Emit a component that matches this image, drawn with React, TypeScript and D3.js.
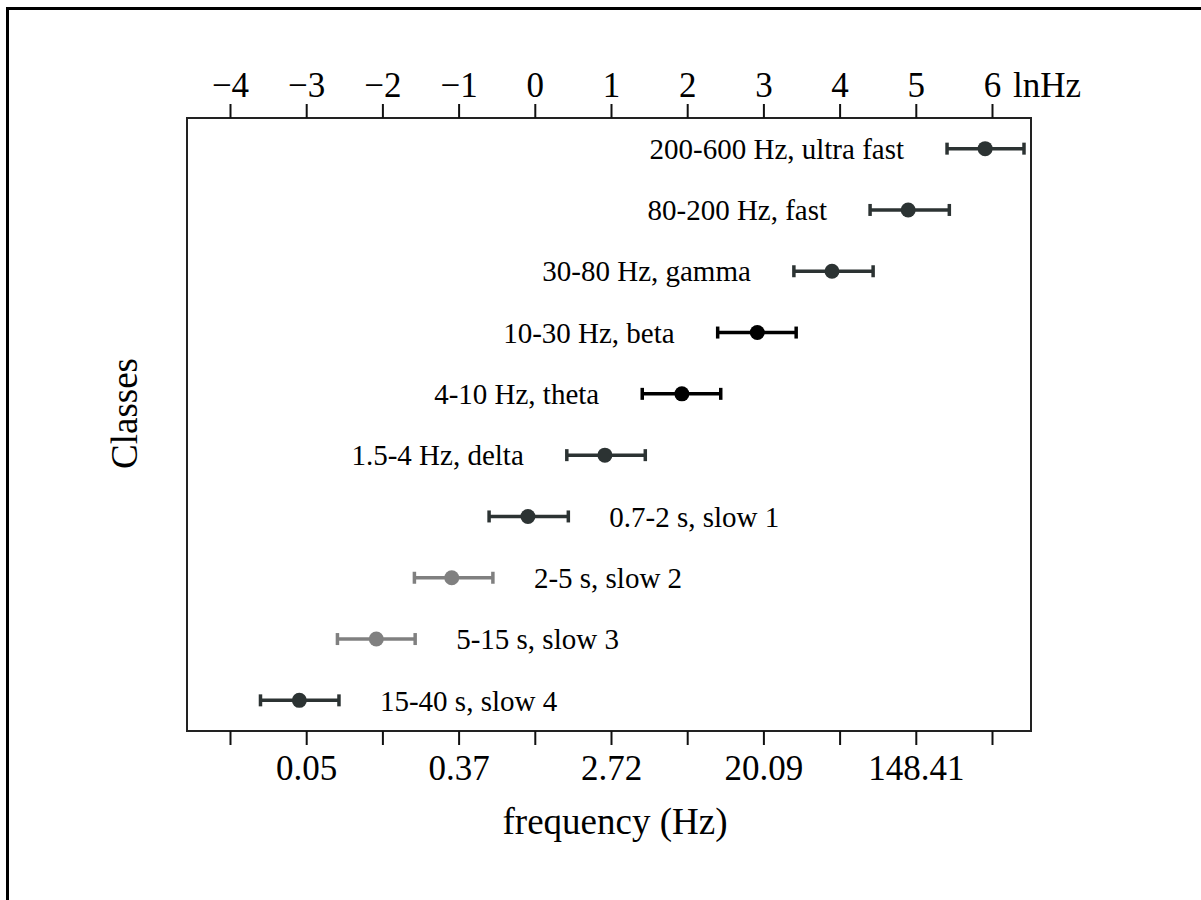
import * as d3 from "d3";
import { useEffect, useRef } from "react";

// classes from top to bottom, values in ln(Hz)
const classes = [
  "200-600 Hz, ultra fast",
  "80-200 Hz, fast",
  "30-80 Hz, gamma",
  "10-30 Hz, beta",
  "4-10 Hz, theta",
  "1.5-4 Hz, delta",
  "0.7-2 s, slow 1",
  "2-5 s, slow 2",
  "5-15 s, slow 3",
  "15-40 s, slow 4",
];
const centers = [5.91, 4.9, 3.9, 2.92, 1.93, 0.92, -0.09, -1.09, -2.08, -3.09];
const lows = [5.41, 4.4, 3.4, 2.4, 1.41, 0.42, -0.6, -1.58, -2.59, -3.6];
const highs = [6.42, 5.44, 4.44, 3.43, 2.44, 1.45, 0.44, -0.55, -1.57, -2.57];
const colors = ["#2c3333", "#2c3333", "#2c3333", "#000000", "#000000", "#2c3333", "#2c3333", "#808080", "#808080", "#2c3333"];
// label sits left of the bar for the fast ones, right of it for the slow ones
const labelLeft = [true, true, true, true, true, true, false, false, false, false];

const topTicks = [-4, -3, -2, -1, 0, 1, 2, 3, 4, 5, 6];
const bottomTicks = [-4, -3, -2, -1, 0, 1, 2, 3, 4, 5, 6];
const bottomLabelTicks = [-3, -1, 1, 3, 5];
const bottomLabels = ["0.05", "0.37", "2.72", "20.09", "148.41"];

export default function App() {
  const ref = useRef<SVGSVGElement>(null);

  useEffect(() => {
    const svg = d3.select(ref.current);
    svg.selectAll("*").remove();
    const g = svg.append("g");

    const left = 187, right = 1031, top = 118, bottom = 731;
    const font = "'Liberation Serif', 'Times New Roman', serif";

    // outer frame, only top and left edges visible
    g.append("path")
      .attr("d", "M7.5,900V8.5H1201")
      .attr("fill", "none")
      .attr("stroke", "#000")
      .attr("stroke-width", 3);

    const x = d3.scaleLinear().domain([-4, 6]).range([230, 992]);
    const y = d3.scalePoint<string>().domain(classes).range([top, bottom]).padding(0.5);

    // plot box
    g.append("rect")
      .attr("x", left)
      .attr("y", top)
      .attr("width", right - left)
      .attr("height", bottom - top)
      .attr("fill", "none")
      .attr("stroke", "#222")
      .attr("stroke-width", 2);

    const topAxis = d3.axisTop(x)
      .tickValues(topTicks)
      .tickSize(14)
      .tickSizeOuter(0)
      .tickPadding(7)
      .tickFormat((d) => d3.format("d")(d as number).replace("-", "\u2212"));
    const ta = g.append("g").attr("transform", `translate(0,${top})`).call(topAxis);
    ta.select(".domain").remove();
    ta.selectAll("line").attr("stroke", "#111").attr("stroke-width", 2);
    ta.selectAll("text").attr("font-family", font).attr("font-size", 35).attr("fill", "#000");

    g.append("text")
      .attr("x", 1013)
      .attr("y", top - 21)
      .attr("font-family", font)
      .attr("font-size", 35)
      .text("lnHz");

    const bottomAxis = d3.axisBottom(x)
      .tickValues(bottomTicks)
      .tickSize(14)
      .tickSizeOuter(0)
      .tickPadding(10)
      .tickFormat((d) => {
        const i = bottomLabelTicks.indexOf(d as number);
        return i >= 0 ? bottomLabels[i] : "";
      });
    const ba = g.append("g").attr("transform", `translate(0,${bottom})`).call(bottomAxis);
    ba.select(".domain").remove();
    ba.selectAll("line").attr("stroke", "#111").attr("stroke-width", 2);
    ba.selectAll("text").attr("font-family", font).attr("font-size", 35).attr("fill", "#000");

    // axis titles
    g.append("text")
      .attr("x", (left + right) / 2 + 6)
      .attr("y", 834)
      .attr("text-anchor", "middle")
      .attr("font-family", font)
      .attr("font-size", 37)
      .text("frequency (Hz)");

    g.append("text")
      .attr("transform", `translate(137,${(top + bottom) / 2 - 11}) rotate(-90)`)
      .attr("text-anchor", "middle")
      .attr("font-family", font)
      .attr("font-size", 37)
      .text("Classes");

    // error bars
    const rows = g.append("g").selectAll("g").data(classes).join("g")
      .attr("transform", (d) => `translate(0,${y(d)})`);

    rows.append("line")
      .attr("x1", (_, i) => x(lows[i]))
      .attr("x2", (_, i) => x(highs[i]))
      .attr("stroke", (_, i) => colors[i])
      .attr("stroke-width", 3.5);
    rows.append("line")
      .attr("x1", (_, i) => x(lows[i]))
      .attr("x2", (_, i) => x(lows[i]))
      .attr("y1", -6).attr("y2", 6)
      .attr("stroke", (_, i) => colors[i])
      .attr("stroke-width", 3.5);
    rows.append("line")
      .attr("x1", (_, i) => x(highs[i]))
      .attr("x2", (_, i) => x(highs[i]))
      .attr("y1", -6).attr("y2", 6)
      .attr("stroke", (_, i) => colors[i])
      .attr("stroke-width", 3.5);
    rows.append("circle")
      .attr("cx", (_, i) => x(centers[i]))
      .attr("r", 7.5)
      .attr("fill", (_, i) => colors[i]);

    rows.append("text")
      .attr("x", (_, i) => (labelLeft[i] ? x(lows[i]) - 43 : x(highs[i]) + 41))
      .attr("dy", "0.35em")
      .attr("text-anchor", (_, i) => (labelLeft[i] ? "end" : "start"))
      .attr("font-family", font)
      .attr("font-size", 29)
      .attr("fill", "#000")
      .text((d) => d);
  }, []);

  return (
    <svg
      ref={ref}
      width={1201}
      height={900}
      style={{ position: "absolute", left: 0, top: 0, display: "block" }}
    />
  );
}
